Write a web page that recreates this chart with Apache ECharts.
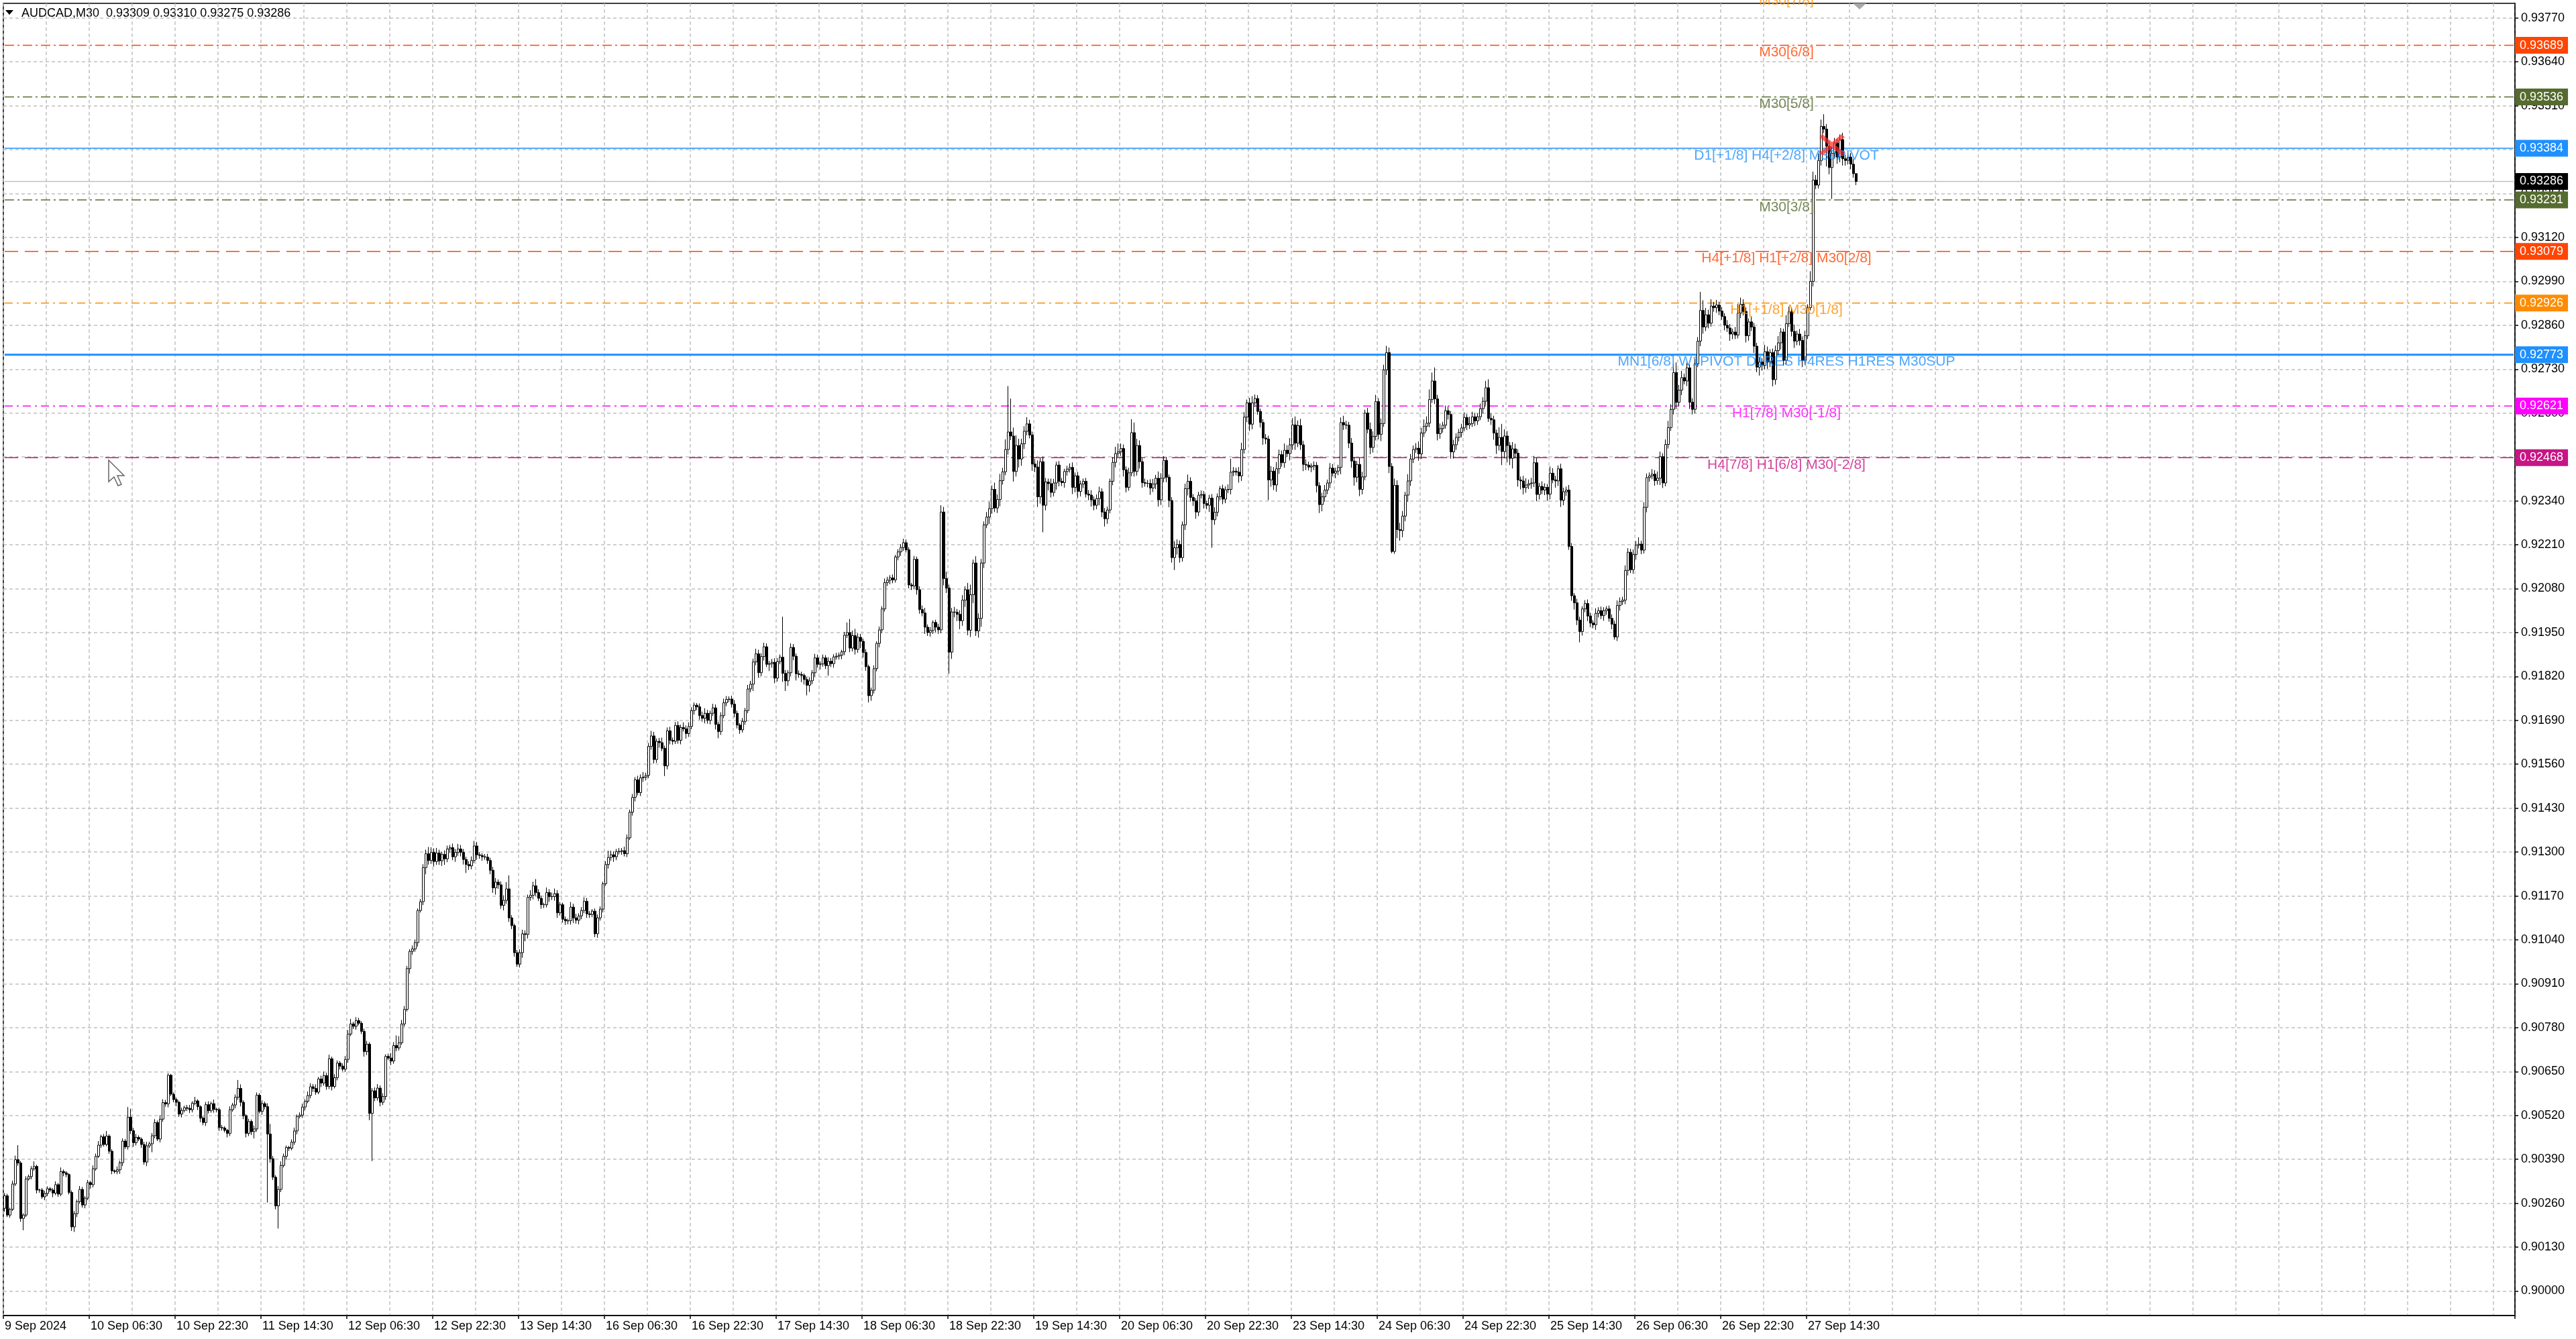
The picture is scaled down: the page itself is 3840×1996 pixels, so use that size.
<!DOCTYPE html>
<html><head><meta charset="utf-8">
<script src="https://cdn.jsdelivr.net/npm/echarts@6/dist/echarts.min.js"></script>
<style>html,body{margin:0;padding:0;background:#fff;}#c{width:3840px;height:1996px;}</style>
</head><body><div id="c"></div>
<script>
// ---- DATA (prices in points of 0.00001 above 0.90000) ----
const symbolName = 'AUDCAD,M30';
const firstOpen = 245;
const closes = [
282,225,242,317,389,379,215,225,332,339,
362,369,299,299,279,289,303,299,290,315,
287,354,350,345,292,190,229,265,301,255,
275,321,315,362,399,432,457,434,459,414,
356,354,359,380,444,427,515,475,439,455,
450,434,382,430,436,460,499,450,509,558,
554,639,583,567,559,524,535,543,541,537,
556,563,546,512,499,552,534,555,538,537,
484,483,476,467,537,551,574,600,559,519,
467,502,472,480,580,532,555,546,465,392,
337,252,301,372,399,425,423,441,474,517,
521,545,562,579,605,600,589,628,616,638,
606,688,606,632,675,666,657,686,761,791,
784,801,793,769,709,731,526,593,572,601,
559,576,695,690,681,727,720,735,791,834,
955,1006,1013,1032,1127,1153,1254,1295,1275,1299,
1272,1297,1274,1293,1280,1309,1313,1286,1299,1309,
1299,1278,1263,1259,1275,1318,1292,1290,1286,1285,
1275,1246,1194,1211,1203,1142,1157,1191,1105,1082,
1002,968,1002,1058,1056,1166,1172,1200,1180,1163,
1144,1144,1180,1168,1168,1177,1120,1144,1101,1096,
1097,1137,1105,1098,1111,1127,1154,1117,1115,1125,
1058,1105,1131,1206,1263,1284,1292,1286,1301,1302,
1304,1295,1342,1418,1462,1514,1476,1520,1522,1527,
1613,1644,1574,1628,1624,1607,1555,1659,1631,1628,
1675,1631,1669,1665,1651,1672,1719,1735,1730,1704,
1696,1711,1690,1711,1727,1678,1657,1704,1742,1752,
1753,1738,1711,1676,1662,1687,1719,1783,1797,1863,
1887,1831,1879,1908,1856,1858,1862,1815,1864,1877,
1829,1807,1831,1906,1880,1828,1826,1823,1811,1794,
1807,1831,1875,1856,1857,1875,1852,1865,1858,1878,
1880,1883,1893,1942,1950,1904,1941,1900,1936,1924,
1891,1849,1763,1779,1843,1918,1958,2020,2098,2105,
2112,2106,2174,2189,2202,2216,2195,2091,2088,2167,
2077,2018,2008,1966,1950,1956,1980,1966,1958,2307,
2110,2082,1892,2011,2010,2004,1985,2046,2077,1957,
2062,2156,1955,1992,2156,2269,2292,2317,2374,2319,
2344,2400,2426,2492,2544,2532,2427,2504,2464,2509,
2546,2568,2535,2449,2440,2352,2456,2327,2396,2391,
2365,2393,2446,2398,2394,2427,2434,2439,2380,2414,
2368,2390,2398,2360,2357,2343,2327,2347,2367,2307,
2287,2313,2398,2454,2480,2485,2495,2432,2380,2423,
2542,2427,2504,2456,2394,2392,2392,2378,2390,2407,
2343,2407,2460,2410,2341,2172,2201,2211,2172,2269,
2376,2398,2350,2340,2307,2357,2359,2332,2327,2348,
2284,2306,2352,2376,2345,2373,2374,2425,2428,2425,
2414,2492,2588,2630,2567,2630,2643,2605,2572,2526,
2523,2402,2428,2387,2435,2477,2453,2490,2480,2506,
2565,2511,2563,2506,2448,2446,2440,2443,2445,2385,
2329,2352,2372,2393,2437,2422,2428,2439,2572,2565,
2564,2511,2458,2410,2448,2374,2411,2600,2552,2498,
2531,2634,2537,2569,2728,2779,2442,2190,2386,2255,
2252,2295,2357,2399,2464,2492,2496,2479,2541,2561,
2570,2640,2695,2642,2539,2554,2564,2607,2596,2485,
2506,2528,2543,2556,2587,2565,2569,2589,2577,2589,
2613,2635,2675,2584,2580,2541,2504,2528,2486,2532,
2504,2466,2494,2481,2402,2399,2379,2387,2391,2393,
2453,2359,2383,2372,2380,2360,2422,2402,2399,2435,
2342,2367,2372,2205,2059,2038,1987,1953,2020,2036,
1999,1978,1973,2007,2015,2000,2015,2020,1992,1975,
1937,2030,2042,2046,2134,2188,2136,2181,2209,2212,
2194,2321,2409,2414,2419,2400,2407,2471,2393,2507,
2557,2611,2720,2632,2668,2705,2695,2734,2632,2611,
2746,2813,2904,2855,2891,2866,2917,2912,2920,2902,
2886,2860,2852,2834,2840,2831,2896,2922,2901,2829,
2870,2855,2798,2736,2751,2741,2782,2751,2779,2699,
2785,2808,2840,2756,2865,2900,2842,2813,2834,2815,
2756,2829,2912,2990,3290,3275,3348,3449,3441,3390,
3327,3369,3400,3358,3410,3353,3348,3358,3337,3309,
3286
];
const upWick = [
8,6,5,10,12,43,6,5,8,6,
8,15,5,4,6,8,7,5,6,10,
5,12,6,5,4,6,8,6,10,7,
6,8,5,10,8,12,6,8,15,5,
6,4,10,6,8,6,30,25,8,10,
6,5,8,12,6,8,10,6,12,10,
8,6,4,5,6,5,8,6,8,10,
6,12,5,4,6,8,10,6,12,5,
6,8,5,4,10,6,8,25,12,6,
5,8,6,10,8,6,10,6,10,30,
8,6,10,12,8,6,5,8,10,6,
8,10,6,12,10,8,12,6,10,12,
8,12,6,10,8,6,8,10,12,15,
6,10,8,6,8,10,6,8,10,12,
8,10,6,8,15,10,30,20,12,10,
8,6,10,8,6,8,10,12,20,15,
12,15,10,8,12,10,8,12,10,15,
12,10,8,10,12,15,12,8,6,8,
10,8,10,12,8,10,15,20,40,8,
6,8,10,12,10,8,15,12,20,10,
8,6,15,10,12,15,10,8,6,8,
6,15,10,12,8,10,12,10,8,6,
8,10,8,6,10,20,12,10,8,10,
8,12,10,8,10,8,12,10,15,8,
10,15,12,8,10,15,8,10,12,8,
10,12,8,15,10,12,10,8,6,10,
12,15,10,8,12,10,8,10,12,10,
8,10,12,8,6,10,8,12,10,10,
15,12,10,12,10,8,10,12,10,8,
120,10,8,12,10,8,10,8,6,8,
10,8,12,10,8,10,8,12,10,8,
10,8,6,10,30,40,15,20,12,10,
8,10,6,8,10,6,10,8,12,10,
8,10,6,8,10,12,10,8,6,10,
8,10,12,15,8,10,6,8,10,20,
15,20,10,12,15,10,12,15,10,20,
30,10,20,15,12,10,15,20,12,20,
15,20,12,30,136,99,25,30,20,15,
15,20,12,10,15,20,10,15,12,10,
15,12,10,12,10,8,10,12,15,10,
12,10,8,10,12,15,10,12,15,10,
12,10,8,15,20,25,15,12,10,15,
40,30,20,15,10,12,10,12,15,10,
20,15,12,10,8,10,20,15,12,10,
15,20,12,10,8,10,12,10,8,10,
12,15,10,8,12,10,15,40,12,10,
15,20,15,10,15,20,12,10,8,10,
12,10,15,12,20,15,12,20,15,20,
20,25,15,20,12,15,10,8,12,10,
10,12,15,10,15,12,10,8,15,20,
12,10,15,12,10,20,15,10,15,20,
15,20,10,15,15,20,15,10,20,15,
20,15,10,20,15,12,15,20,15,20,
20,30,25,40,12,15,10,15,12,10,
15,12,10,12,15,10,20,15,12,10,
15,12,20,25,15,12,10,30,40,20,
15,10,20,15,12,10,15,20,12,15,
20,15,10,15,12,10,20,15,12,10,
15,12,10,15,10,8,12,10,8,10,
12,10,8,15,10,12,10,8,10,12,
10,15,12,10,15,12,10,15,12,20,
10,15,12,10,15,12,20,15,10,15,
20,15,25,30,15,20,12,15,10,12,
15,12,55,30,20,15,20,12,15,10,
12,10,15,12,10,15,27,20,15,12,
10,15,12,10,15,12,20,15,10,12,
15,20,12,10,25,15,12,20,10,15,
12,15,10,30,25,15,20,20,36,15,
15,20,15,12,15,20,12,10,12,15,
1
];
const downWick = [
10,6,8,5,6,8,10,35,6,5,
8,6,10,8,6,10,8,6,12,6,
8,6,10,8,6,12,15,10,6,8,
10,6,12,8,6,5,8,6,5,8,
10,6,8,12,10,6,8,10,12,8,
6,10,8,12,6,25,8,6,10,8,
8,10,6,8,12,8,10,6,8,10,
8,6,10,12,8,10,8,6,10,8,
10,8,6,12,8,6,10,8,12,10,
12,8,10,20,8,6,10,8,203,12,
8,10,67,8,6,10,8,6,8,10,
6,8,10,6,8,10,8,6,12,8,
10,8,12,6,8,10,6,8,10,6,
8,10,6,8,15,10,20,141,10,8,
12,8,10,6,12,8,10,8,6,8,
6,15,10,8,12,6,10,20,12,10,
15,10,12,15,18,10,12,10,15,10,
12,15,25,12,10,8,15,10,12,8,
10,12,15,20,12,10,15,10,12,10,
12,8,10,15,20,12,10,12,10,8,
12,10,8,15,10,12,15,8,10,12,
10,12,15,10,12,10,8,12,10,8,
10,12,8,10,6,12,10,15,10,8,
10,8,10,6,10,12,8,10,12,10,
8,10,12,10,15,8,30,10,12,10,
8,10,12,8,15,10,8,12,10,12,
10,15,10,12,8,15,20,10,8,10,
8,10,12,10,12,8,10,8,10,20,
10,15,10,12,8,20,12,15,10,8,
25,30,15,10,12,20,10,20,15,30,
20,10,12,10,15,8,10,30,10,12,
8,10,12,10,8,12,10,15,10,20,
15,12,20,15,10,8,12,10,8,10,
12,10,8,10,12,10,8,10,12,10,
15,12,10,20,10,12,10,15,12,10,
20,15,64,20,15,20,25,15,20,15,
20,25,15,20,25,15,10,20,15,12,
15,20,12,10,15,12,30,15,25,20,
15,12,10,20,15,30,20,80,15,20,
15,12,20,15,10,15,12,10,20,15,
20,15,12,10,15,20,15,12,20,15,
23,15,10,12,15,10,12,20,15,10,
10,15,12,20,15,10,12,20,12,15,
20,15,12,15,20,15,37,20,15,12,
15,20,12,15,20,12,10,15,12,20,
83,15,12,10,15,12,10,15,12,10,
20,15,12,15,20,15,12,10,15,20,
15,60,20,15,20,15,12,15,10,20,
15,20,12,15,20,15,10,15,12,20,
25,20,15,12,15,10,15,12,20,15,
12,15,20,25,15,20,15,10,12,20,
15,12,15,20,10,15,20,5,7,25,
30,20,15,20,15,12,10,20,15,12,
15,12,10,15,20,15,12,10,15,20,
20,15,12,15,10,15,12,10,15,12,
10,15,12,10,15,20,25,15,40,20,
50,20,30,15,20,25,20,15,12,15,
12,20,15,12,15,20,15,10,20,15,
20,15,12,10,15,20,15,32,12,10,
15,12,10,15,12,10,15,12,10,15,
8,12,15,10,12,15,10,12,15,10,
12,10,15,12,10,15,12,20,15,10,
12,10,15,20,12,15,10,15,20,15,
12,10,15,20,12,15,10,12,15,12,
10,15,12,20,15,12,10,15,12,20,
15,12,20,15,25,15,12,20,15,20,
15,12,20,15,12,10,15,20,12,15,
20,12,10,8,15,12,10,15,12,60,
20,93,15,20,15,20,15,12,15,12,
11
];
const dateLabels = ['9 Sep 2024','10 Sep 06:30','10 Sep 22:30','11 Sep 14:30','12 Sep 06:30','12 Sep 22:30','13 Sep 14:30','16 Sep 06:30','16 Sep 22:30','17 Sep 14:30','18 Sep 06:30','18 Sep 22:30','19 Sep 14:30','20 Sep 06:30','20 Sep 22:30','23 Sep 14:30','24 Sep 06:30','24 Sep 22:30','25 Sep 14:30','26 Sep 06:30','26 Sep 22:30','27 Sep 14:30'];
const yTickLabels = ['0.90000','0.90130','0.90260','0.90390','0.90520','0.90650','0.90780','0.90910','0.91040','0.91170','0.91300','0.91430','0.91560','0.91690','0.91820','0.91950','0.92080','0.92210','0.92340','0.92470','0.92600','0.92730','0.92860','0.92990','0.93120','0.93250','0.93380','0.93510','0.93640','0.93770'];
const levelPrices = [0.93842,0.93689,0.93536,0.93384,0.93231,0.93079,0.92926,0.92773,0.92621,0.92468];
const levelTexts = ['M30[7/8]','M30[6/8]','M30[5/8]','D1[+1/8] H4[+2/8] M30PIVOT','M30[3/8]','H4[+1/8] H1[+2/8] M30[2/8]','H1[+1/8] M30[1/8]','MN1[6/8] W1PIVOT D1RES H4RES H1RES M30SUP','H1[7/8] M30[-1/8]','H4[7/8] H1[6/8] M30[-2/8]'];
const levelColors = ['#FF8C00','#FF4500','#556B2F','#1E90FF','#556B2F','#FF4500','#FF8C00','#1E90FF','#FF00FF','#C71585'];
const tradeMarks = [[681, 0.93394]];

// ---- STYLE TABLES ----
const dashDot = [14,5,3,5];
const levelLineTypes = [dashDot, dashDot, dashDot, 'solid', dashDot, [20,10], [12,6,3,6], 'solid', [12,6,3,6], [20,10]];
const levelLineWidths = [1.5,1.5,1.5,1.5,1.5,1.5,1.5,3,1.5,1.5];

// ---- BUILD ----
const base = 0.9, unit = 1e-5;
const toP = v => +(base + v*unit).toFixed(5);
const ohlc = closes.map((c,i) => {
  const o = i === 0 ? firstOpen : closes[i-1];
  const hi = Math.max(o,c) + (upWick[i] || 0);
  const lo = Math.min(o,c) - (downWick[i] || 0);
  return [toP(o), toP(c), toP(lo), toP(hi)];
});
const last = ohlc[ohlc.length-1];
const nCat = 936;
const cats = Array.from({length:nCat}, (_,i) => String(i));
const yMin = 0.899275, yMax = 0.938133;
const yTickValues = yTickLabels.map(Number);
const FONT = 'Liberation Sans, Arial, sans-serif';

function levelSeries(p, color, type, width, z) {
  return {
    type:'line', silent:true, z: z, symbol:'none', animation:false,
    data: [[0, p], [nCat-1, p]],
    lineStyle: {color: color, type: type, width: width},
    endLabel: {show:true, distance:2, formatter: p.toFixed(5), backgroundColor: color,
               color:'#fff', padding:[4,7,3,7], fontSize:18, fontFamily:FONT}
  };
}
const levelLineSeries = [];
levelPrices.forEach((p,i) => {
  if (p > yMax) return;
  levelLineSeries.push(levelSeries(p, levelColors[i], levelLineTypes[i], levelLineWidths[i], 2));
});
levelLineSeries.push(levelSeries(last[1], '#c0c0c0', 'solid', 1.5, 2));
levelLineSeries[levelLineSeries.length-1].endLabel.backgroundColor = '#000';

const showDate = (i) => i % 32 === 0 && (i/32) < dateLabels.length;

const chart = echarts.init(document.getElementById('c'), null, {renderer:'canvas'});

chart.setOption({
  animation: false,
  backgroundColor: '#ffffff',
  grid: {left:5, top:5, width:3744, height:1956, show:true, borderColor:'#000', borderWidth:1.5, backgroundColor:'#fff'},
  xAxis: {
    type:'category', data: cats, boundaryGap: true,
    axisLine: {show:true, lineStyle:{color:'#000', width:1.5}},
    axisTick: {show:true, interval: showDate, length:5, lineStyle:{color:'#000', width:1.5}},
    axisLabel: {interval: showDate, formatter: (v, i) => dateLabels[Math.round(+v/32)] || '', align:'left',
                color:'#000', fontSize:18, fontFamily:FONT, margin:7},
    splitLine: {show:true, interval: (i) => i % 16 === 0, lineStyle:{color:'#c0c0c0', type:[5,4], width:1.5}}
  },
  yAxis: {
    type:'value', position:'right', min:yMin, max:yMax, scale:true,
    axisLine: {show:true, lineStyle:{color:'#000', width:1.5}},
    axisTick: {show:true, customValues: yTickValues, length:5, lineStyle:{color:'#000', width:1.5}},
    axisLabel: {show:true, customValues: yTickValues, formatter: v => (+v).toFixed(5), color:'#000', fontSize:18, fontFamily:FONT, margin:9},
    splitLine: {show:true, customValues: yTickValues, lineStyle:{color:'#c0c0c0', type:[5,4], width:1.5}}
  },
  series: levelLineSeries.concat([
    {
      type:'candlestick', data: ohlc, barWidth: 3, z: 3, large: false, progressive: 0,
      itemStyle: {color:'#ffffff', color0:'#000000', borderColor:'#000000', borderColor0:'#000000', borderWidth:1}
    },
    {
      type:'scatter', z: 6, clip:false, silent:true, symbolSize: 1,
      itemStyle: {color:'rgba(0,0,0,0)'},
      data: levelPrices.map((p,i) => ({value:[664, p], name: levelTexts[i], label:{color: levelColors[i]}})),
      label: {show:true, position:'inside', offset:[0,11], formatter:'{b}', fontSize:21, fontFamily:FONT}
    },
    {
      type:'scatter', z: 10, silent:true,
      symbol: 'path://M3,0 L12,8 L21,0 L24,3 L15,11 L24,19 L21,22 L12,14 L3,22 L0,19 L9,11 L0,3 Z',
      symbolSize: [38, 32],
      itemStyle: {color:'rgba(255,45,45,0.9)'},
      data: tradeMarks
    }
  ]),
  graphic: [
    {type:'polygon', shape:{points:[[8,15],[20,15],[14,22]]}, style:{fill:'#000'}},
    {type:'text', x:32, y:20, style:{text: symbolName + '  ' + last[0].toFixed(5) + ' ' + last[3].toFixed(5) + ' ' + last[2].toFixed(5) + ' ' + last[1].toFixed(5),
      fill:'#000', font:'18px ' + FONT, verticalAlign:'middle'}},
    {type:'polygon', shape:{points:[[2762,5],[2782,5],[2772,14]]}, style:{fill:'#a8a8a8'}},
    {type:'polygon', shape:{points:[[162,686],[162,718],[170,711],[176,724],[181,722],[175,709],[185,709]]}, style:{fill:'#fff', stroke:'#666', lineWidth:1.5}}
  ]
});
</script>
</body></html>
